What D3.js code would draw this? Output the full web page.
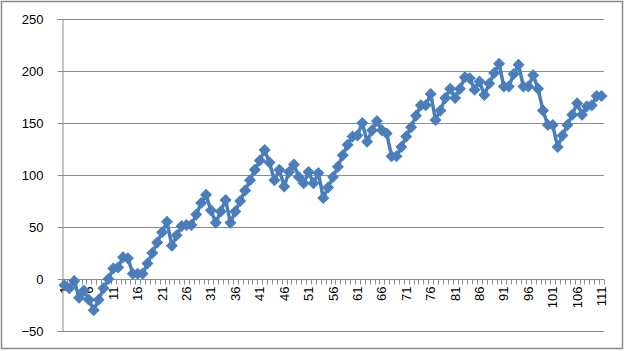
<!DOCTYPE html>
<html>
<head>
<meta charset="utf-8">
<script src="https://cdn.jsdelivr.net/npm/d3@7"></script>
<style>
  body { margin: 0; background: #fff; }
  text { font-family: "Liberation Sans", Arial, sans-serif; font-size: 12px; fill: #000; }
</style>
</head>
<body>
<div id="graph"></div>
<script>
let w = 625;
let h = 351;

// values, one per category 1..111
let values = [
  -6, -9, -2, -18, -11, -20, -30, -20, -9, 0,
  10, 11, 21, 20, 5, 5, 5, 15, 25, 35,
  45, 55, 32, 42, 51, 52, 52, 62, 73, 81,
  66, 54, 65, 76, 54, 65, 75, 85, 95, 105,
  114, 124, 112, 95, 105, 89, 103, 110, 98, 92,
  103, 92, 102, 78, 88, 98, 108, 119, 129, 137,
  138, 150, 132, 143, 152, 143, 140, 118, 118, 127,
  137, 146, 157, 167, 167, 178, 153, 162, 174, 183,
  174, 183, 194, 193, 182, 190, 177, 188, 198, 207,
  185, 185, 197, 206, 185, 185, 196, 183, 162, 148,
  148, 127, 138, 148, 158, 169, 158, 166, 167, 176,
  176
];
let categories = values.map(function(d, i){ return i + 1; });
let yTicks = [-50, 0, 50, 100, 150, 200, 250];
let xLabels = categories.filter(function(d){ return (d - 1) % 5 == 0; });

let plotLeft = 62;
let plotRight = 604;
let plotTop = 19;
let plotBottom = 331;

let xScale = d3.scaleBand().domain(categories).range([plotLeft, plotRight]);
let yScale = d3.scaleLinear().domain([-50, 250]).range([plotBottom, plotTop]);

let viz = d3.select("#graph")
  .append("svg")
    .attr("width", w)
    .attr("height", h)
;

// outer chart border
viz.append("rect")
  .attr("x", 1.5).attr("y", 1.5)
  .attr("width", w - 4).attr("height", h - 4)
  .attr("fill", "none")
  .attr("stroke", "#8a8a8a")
  .attr("stroke-width", 1.5)
;

// horizontal gridlines
viz.append("g").selectAll("line").data(yTicks).enter()
  .append("line")
    .attr("x1", plotLeft).attr("x2", plotRight)
    .attr("y1", function(d){ return Math.round(yScale(d)) + 0.5; })
    .attr("y2", function(d){ return Math.round(yScale(d)) + 0.5; })
    .attr("stroke", "#8c8c8c")
    .attr("stroke-width", 1.2)
;

// y axis
let yAxis = d3.axisLeft(yScale).tickValues(yTicks).tickSize(5).tickPadding(14);
let yAxisGroup = viz.append("g").attr("class", "yaxis")
  .attr("transform", "translate(" + (plotLeft + 0.5) + ",0)")
  .call(yAxis);
yAxisGroup.selectAll("path, line").attr("stroke", "#8c8c8c");
yAxisGroup.selectAll("text").style("font-size", "13px");

// x axis sitting on the zero line, ticks between categories
let zeroY = Math.round(yScale(0)) + 0.5;
let xAxisGroup = viz.append("g").attr("class", "xaxis");
xAxisGroup.selectAll("line").data(d3.range(values.length + 1)).enter()
  .append("line")
    .attr("x1", function(d){ return Math.round(plotLeft + d * xScale.step()) + 0.5; })
    .attr("x2", function(d){ return Math.round(plotLeft + d * xScale.step()) + 0.5; })
    .attr("y1", zeroY)
    .attr("y2", zeroY + 5)
    .attr("stroke", "#8c8c8c")
;
xAxisGroup.selectAll("text").data(xLabels).enter()
  .append("text")
    .text(function(d){ return d; })
    .attr("text-anchor", "end")
    .attr("dy", "0.35em")
    .attr("transform", function(d){
      let x = xScale(d) + xScale.bandwidth() / 2;
      return "translate(" + x + "," + (zeroY + 7) + ") rotate(-90)";
    })
    .style("font-size", "13px")
;

// series line
let line = d3.line()
  .x(function(d, i){ return xScale(categories[i]) + xScale.bandwidth() / 2; })
  .y(function(d){ return yScale(d); });

viz.append("path")
  .datum(values)
  .attr("d", line)
  .attr("fill", "none")
  .attr("stroke", "#4a7ebb")
  .attr("stroke-width", 3.5)
  .attr("stroke-linejoin", "round")
;

// diamond markers
let diamond = d3.symbol().type(d3.symbolSquare).size(56);
viz.append("g").selectAll("path").data(values).enter()
  .append("path")
    .attr("d", diamond)
    .attr("transform", function(d, i){
      let x = xScale(categories[i]) + xScale.bandwidth() / 2;
      return "translate(" + x + "," + yScale(d) + ") rotate(45)";
    })
    .attr("fill", "#4a7ebb")
    .attr("stroke", "#4a7ebb")
    .attr("stroke-width", 1)
;
</script>
</body>
</html>
